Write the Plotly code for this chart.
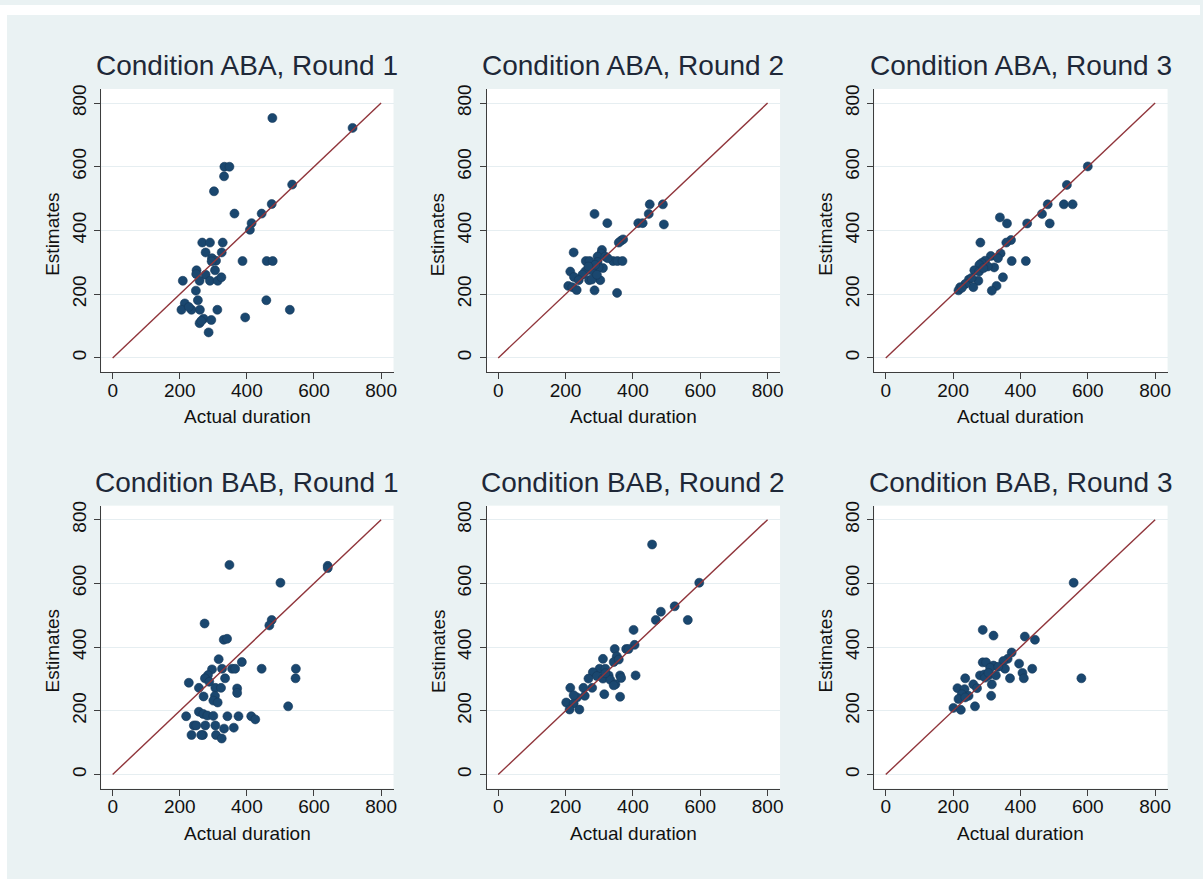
import plotly.graph_objects as go

# ---------------- data ----------------
titles = ["Condition ABA, Round 1", "Condition ABA, Round 2", "Condition ABA, Round 3",
          "Condition BAB, Round 1", "Condition BAB, Round 2", "Condition BAB, Round 3"]

aba_r1_actual = [476, 715, 333, 348, 332, 535, 302, 474, 363, 444, 414, 409, 267, 290, 328, 277, 325, 296, 308, 295,
                 387, 459, 477, 250, 305, 249, 277, 209, 259, 290, 313, 324, 248, 254, 458, 215, 205, 235, 260, 312,
                 528, 227, 271, 294, 259, 264, 395, 286]
aba_r1_est = [753, 722, 600, 600, 570, 544, 523, 483, 453, 453, 423, 402, 362, 362, 362, 331, 331, 313, 305, 303,
              304, 304, 304, 275, 275, 263, 261, 242, 242, 242, 242, 253, 211, 181, 181, 171, 151, 151, 151, 151,
              151, 160, 123, 119, 109, 116, 127, 80]

aba_r2_actual = [450, 489, 447, 286, 324, 416, 429, 492, 365, 371, 358, 224, 308, 306, 295, 318, 260, 271, 341, 354,
                 369, 325, 295, 311, 298, 278, 258, 214, 250, 225, 239, 270, 303, 278, 208, 220, 233, 286, 353, 293,
                 288, 268]
aba_r2_est = [482, 482, 452, 452, 423, 423, 423, 419, 368, 372, 362, 331, 339, 328, 318, 318, 304, 304, 304, 304,
              304, 313, 301, 282, 284, 274, 271, 271, 261, 254, 244, 244, 244, 246, 226, 222, 213, 212, 204, 261,
              292, 287]

aba_r3_actual = [600, 538, 481, 529, 555, 464, 339, 360, 420, 487, 372, 358, 281, 341, 312, 333, 295, 285, 374, 416,
                 322, 303, 278, 263, 277, 275, 348, 247, 260, 329, 315, 236, 221, 216, 226, 255, 290]
aba_r3_est = [601, 543, 482, 482, 482, 452, 441, 422, 422, 422, 370, 362, 362, 328, 320, 313, 305, 298, 304, 304,
              284, 287, 292, 275, 271, 242, 253, 246, 222, 226, 211, 232, 222, 212, 220, 251, 282]

bab_r1_actual = [348, 641, 641, 500, 274, 474, 467, 331, 341, 316, 385, 296, 326, 356, 365, 444, 546, 545, 284, 275,
                 335, 288, 227, 257, 306, 323, 371, 371, 271, 305, 300, 313, 523, 257, 270, 282, 300, 219, 342, 375,
                 413, 425, 242, 249, 276, 306, 332, 361, 235, 269, 308, 325, 264]
bab_r1_est = [658, 655, 648, 602, 474, 485, 468, 423, 426, 362, 353, 330, 332, 332, 332, 332, 332, 302, 312, 302,
              302, 291, 288, 272, 272, 272, 270, 256, 245, 247, 232, 226, 214, 197, 190, 185, 184, 183, 183, 183,
              183, 173, 154, 154, 154, 154, 144, 147, 124, 124, 124, 113, 124]

bab_r2_actual = [457, 597, 524, 483, 468, 563, 402, 405, 380, 387, 346, 352, 311, 343, 358, 408, 362, 365, 328, 301,
                 318, 281, 268, 293, 311, 333, 348, 343, 279, 253, 214, 315, 257, 362, 234, 202, 224, 212, 241, 224,
                 318]
bab_r2_est = [722, 602, 528, 511, 485, 485, 454, 407, 394, 394, 394, 371, 363, 353, 361, 311, 311, 303, 311, 332,
              332, 321, 301, 309, 301, 297, 283, 280, 272, 272, 272, 252, 247, 244, 242, 226, 223, 204, 204, 249,
              318]

bab_r3_actual = [558, 581, 288, 320, 413, 443, 374, 362, 349, 288, 298, 396, 320, 310, 354, 435, 334, 406, 410, 369,
                 280, 293, 305, 315, 236, 260, 271, 213, 234, 246, 313, 226, 216, 236, 265, 201, 223, 295, 305, 327]
bab_r3_est = [602, 302, 454, 436, 433, 423, 383, 363, 356, 352, 352, 348, 342, 335, 332, 332, 338, 319, 302, 302,
              311, 314, 311, 283, 302, 283, 271, 271, 268, 247, 247, 252, 237, 242, 214, 209, 203, 304, 319, 311]

panels_x = [aba_r1_actual, aba_r2_actual, aba_r3_actual, bab_r1_actual, bab_r2_actual, bab_r3_actual]
panels_y = [aba_r1_est, aba_r2_est, aba_r3_est, bab_r1_est, bab_r2_est, bab_r3_est]

diag = [0, 800]                      # line of equality y = x
tick_vals = [0, 200, 400, 600, 800]
tick_text = ["0", "200", "400", "600", "800"]
x_title = "Actual duration"
y_title = "Estimates"

# ---------------- layout geometry (pixels) ----------------
W, H = 1203, 879
col_px = [(101.5, 394.5), (488.0, 782.0), (876.5, 1170.5)]
row_px = [(84.5, 369.0), (503.5, 788.0)]
xr = [-34, 837]
yr = [-44, 844]

NAVY = "#1a476f"
MAROON = "#90353b"
BG = "#eaf2f3"
GRID = "#e6eef1"
AXIS = "#3d3d3d"
TITLE_C = "#1e2838"
FONT = "Liberation Sans, Arial, Helvetica, sans-serif"


def fx(px):
    return px / W


def fy(py):
    return 1 - py / H


fig = go.Figure()
annotations = []
for i in range(6):
    r, c = divmod(i, 3)
    k = "" if i == 0 else str(i + 1)
    xa, ya = "x" + k, "y" + k
    fig.add_trace(go.Scatter(x=panels_x[i], y=panels_y[i], mode="markers",
                             marker=dict(color=NAVY, size=9, line=dict(width=0.6, color="#15395a")),
                             xaxis=xa, yaxis=ya, showlegend=False, hoverinfo="x+y"))
    fig.add_trace(go.Scatter(x=diag, y=diag, mode="lines",
                             line=dict(color=MAROON, width=1.4),
                             xaxis=xa, yaxis=ya, showlegend=False, hoverinfo="skip"))
    x0, x1 = col_px[c]
    y0, y1 = row_px[r]
    fig.layout["xaxis" + k] = dict(
        domain=[fx(x0), fx(x1)], range=xr, anchor=ya, showgrid=False, zeroline=False,
        showline=True, linecolor=AXIS, linewidth=1.3, ticks="outside", ticklen=6,
        tickwidth=1.3, tickcolor=AXIS, tickvals=tick_vals, ticktext=tick_text,
        tickfont=dict(size=19, color="#111111", family=FONT), ticklabelstandoff=-5,
        fixedrange=True)
    fig.layout["yaxis" + k] = dict(
        domain=[fy(y1), fy(y0)], range=yr, anchor=xa, showgrid=True, gridcolor=GRID,
        gridwidth=1.3, zeroline=False, showline=True, linecolor=AXIS, linewidth=1.3,
        ticks="outside", ticklen=6, tickwidth=1.3, tickcolor=AXIS, tickvals=tick_vals,
        ticktext=tick_text, tickangle=-90,
        tickfont=dict(size=19, color="#111111", family=FONT), ticklabelstandoff=1,
        fixedrange=True)
    cx = (x0 + x1) / 2
    annotations.append(dict(text=titles[i], x=fx(cx), y=fy(y0 - 6), xref="paper", yref="paper",
                            xanchor="center", yanchor="bottom", showarrow=False,
                            font=dict(size=28, color=TITLE_C, family=FONT)))
    annotations.append(dict(text=x_title, x=fx(cx), y=fy(y1 + 45), xref="paper", yref="paper",
                            xanchor="center", yanchor="middle", showarrow=False,
                            font=dict(size=19, color="#111111", family=FONT)))
    annotations.append(dict(text=y_title, x=fx(x0 - 49), y=fy((y0 + y1) / 2 + 4), xref="paper",
                            yref="paper", xanchor="center", yanchor="middle", textangle=-90,
                            showarrow=False, font=dict(size=19, color="#111111", family=FONT)))

fig.update_layout(
    width=W, height=H, margin=dict(l=0, r=0, t=0, b=0, pad=0),
    paper_bgcolor=BG, plot_bgcolor="white", annotations=annotations,
    font=dict(family=FONT), showlegend=False,
    shapes=[
        dict(type="rect", xref="paper", yref="paper", x0=0, x1=fx(7), y0=0, y1=1,
             fillcolor="white", line=dict(width=0), layer="above"),
        dict(type="rect", xref="paper", yref="paper", x0=0, x1=1, y0=fy(10), y1=1,
             fillcolor="white", line=dict(width=0), layer="above"),
    ],
)

fig.write_html("out.html", config={"displayModeBar": False},
               post_script="document.body.style.margin='0';document.body.style.padding='0';")
